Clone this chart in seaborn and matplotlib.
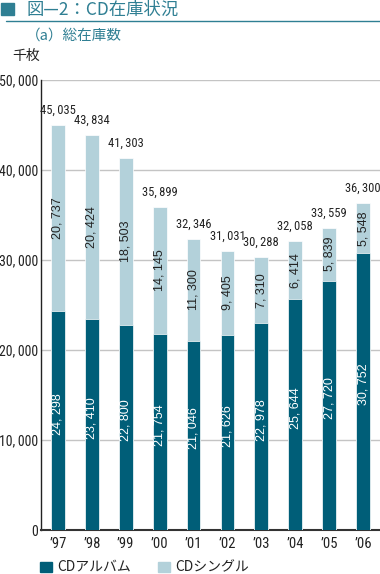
import matplotlib
matplotlib.use("Agg")
import matplotlib.pyplot as plt
import matplotlib.patches as mpatches
import matplotlib.lines as mlines
import pandas as pd
import seaborn as sns

# data (thousand discs)
years = ["’97", "’98", "’99", "’00", "’01", "’02", "’03", "’04", "’05", "’06"]
album = [24298, 23410, 22800, 21754, 21046, 21626, 22978, 25644, 27720, 30752]
single = [20737, 20424, 18503, 14145, 11300, 9405, 7310, 6414, 5839, 5548]
yticks = [0, 10000, 20000, 30000, 40000, 50000]

ALBUM_C = "#005e78"
SINGLE_C = "#b3d1da"
TEAL = "#2f7f93"
INK = "#222222"

JP = ["Noto Sans CJK JP", "DejaVu Sans"]
NARROW = ["Roboto Condensed", "Liberation Sans Narrow", "Roboto", "DejaVu Sans"]
PLAIN = ["Liberation Sans", "Roboto", "DejaVu Sans"]


def fmt(v, gap="\u2009"):
    # the source prints "45, 035" with a gap after the comma
    return f"{v:,}".replace(",", "," + gap)


df = pd.DataFrame({"year": years, "album": album, "single": single})
df["total"] = df["album"] + df["single"]

sns.set_theme(style="white")
plt.rcParams["font.family"] = JP

W, H = 380, 574
fig = plt.figure(figsize=(W / 100, H / 100), dpi=100)
ax = fig.add_axes([41 / W, 1 - 530 / H, 1 - 41 / W, (530 - 80) / H])

# stacked: draw the totals in the light colour, then the album part over it
sns.barplot(data=df, x="year", y="total", order=years, color=SINGLE_C,
            width=0.41, saturation=1, edgecolor="white", linewidth=0.5, ax=ax, zorder=3)
sns.barplot(data=df, x="year", y="album", order=years, color=ALBUM_C,
            width=0.41, saturation=1, edgecolor="white", linewidth=0.5, ax=ax, zorder=3)

for i, r in df.iterrows():
    ax.annotate(fmt(r["album"], " "), (i, r["album"] / 2), xytext=(0, 5),
                textcoords="offset points", rotation=90, ha="center", va="center",
                color="white", fontsize=9, family=PLAIN, zorder=4)
    ax.text(i, r["album"] + r["single"] / 2, fmt(r["single"], " "), rotation=90,
            ha="center", va="center", color=INK, fontsize=9, family=PLAIN, zorder=4)
    ax.annotate(fmt(r["total"]), (i, r["total"]), xytext=(0, 6), textcoords="offset points",
                ha="center", va="bottom", color=INK, fontsize=9, family=NARROW, zorder=4)

ax.set_xlim(-0.5, 9.5)
ax.set_ylim(0, 50000)
ax.set_yticks(yticks)
ax.set_yticklabels([fmt(v) for v in yticks], family=NARROW, fontsize=10, color=INK)
ax.set_xticks(range(len(years)))
ax.set_xticklabels(years, family=NARROW, fontsize=10.5, color=INK)
ax.set_xlabel("")
ax.set_ylabel("")
ax.tick_params(axis="y", length=0, pad=2)
ax.tick_params(axis="x", length=0, pad=5)
ax.grid(axis="y", color="#c4c4c4", linewidth=1, zorder=0)
ax.set_axisbelow(True)
for s in ("top", "right"):
    ax.spines[s].set_visible(False)
ax.spines["left"].set_color(INK)
ax.spines["left"].set_linewidth(1)
ax.spines["bottom"].set_color("#333333")
ax.spines["bottom"].set_linewidth(1.5)

# header
fig.patches.append(mpatches.Rectangle((1 / W, 1 - 15 / H), 13 / W, 12 / H,
                                      transform=fig.transFigure, color=TEAL))
fig.text(27 / W, 1 - 10 / H, "図—2：CD在庫状況", color=TEAL, fontsize=12.5,
         ha="left", va="center")
fig.lines.append(mlines.Line2D([6 / W, 1], [1 - 20.5 / H] * 2, transform=fig.transFigure,
                               color=TEAL, linewidth=1))
fig.text(26 / W, 1 - 36 / H, "（a）総在庫数", color=TEAL, fontsize=10.5,
         ha="left", va="center")
fig.text(12 / W, 1 - 56 / H, "千枚", color=INK, fontsize=10, ha="left", va="center")

# legend along the bottom
for x0, c, lab in [(40, ALBUM_C, "CDアルバム"), (158, SINGLE_C, "CDシングル")]:
    fig.patches.append(mpatches.Rectangle((x0 / W, 1 - 572 / H), 12 / W, 10 / H,
                                          transform=fig.transFigure, color=c))
    fig.text((x0 + 17) / W, 1 - 567 / H, lab, color=INK, fontsize=10,
             ha="left", va="center")

fig.savefig("out.png", dpi=100)
